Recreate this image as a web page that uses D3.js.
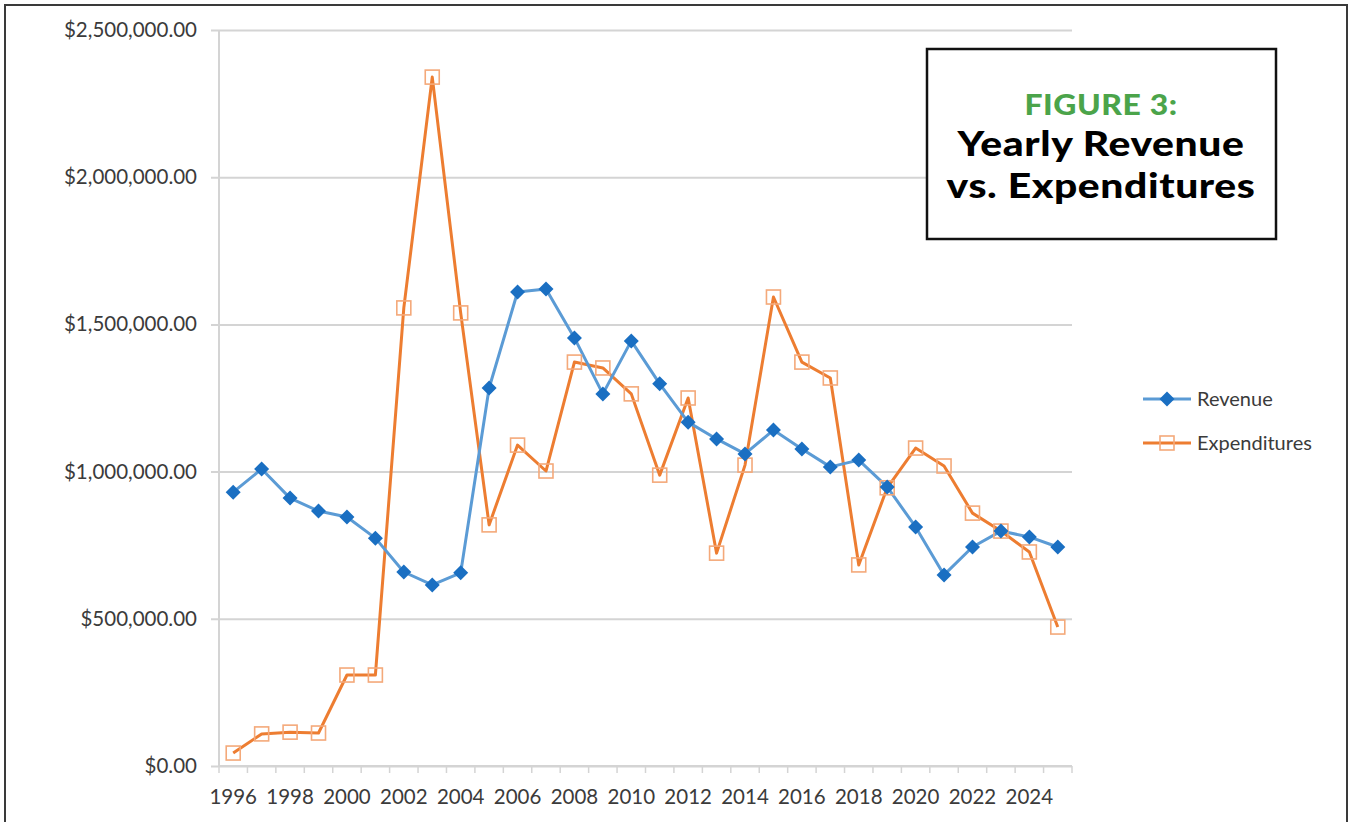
<!DOCTYPE html>
<html>
<head>
<meta charset="utf-8">
<script src="https://cdn.jsdelivr.net/npm/d3@7"></script>
<style>
  body { margin: 0; background: #fff; }
  svg { display: block; }
</style>
</head>
<body>
<div id="chart"></div>
<script>
var width = 1351,
    height = 822;

// data
var years = d3.range(1996, 2026);
var revenue = [930000, 1009000, 910000, 866000, 846000, 774000, 659000, 615000, 656000, 1284000,
               1610000, 1620000, 1454000, 1264000, 1444000, 1298000, 1168000, 1111000, 1060000, 1141000,
               1077000, 1016000, 1039000, 948000, 812000, 649000, 744000, 798000, 778000, 744000];
var expenditures = [44000, 109000, 115000, 112000, 309000, 309000, 1556000, 2340000, 1539000, 819000,
                    1090000, 1002000, 1372000, 1352000, 1264000, 988000, 1250000, 723000, 1022000, 1593000,
                    1372000, 1318000, 683000, 945000, 1080000, 1019000, 859000, 798000, 727000, 472000];
var yTicks = [0, 500000, 1000000, 1500000, 2000000, 2500000];
var seriesNames = ['Revenue', 'Expenditures'];
var titleLines = ['Yearly Revenue', 'vs. Expenditures'];

var margin = {left: 219, right: 279, top: 30, bottom: 56};
var labelFont = "Lato, 'Open Sans', sans-serif";

var svg = d3.select("#chart").append("svg")
  .attr("width", width)
  .attr("height", height);

// outer frame
svg.append("rect")
  .attr("x", 5).attr("y", 5)
  .attr("width", width - 9).attr("height", height + 20)
  .attr("fill", "none")
  .attr("stroke", "#3a3a3a")
  .attr("stroke-width", 2);

var x = d3.scaleBand()
  .domain(years)
  .range([margin.left, width - margin.right]);

var y = d3.scaleLinear()
  .domain([0, 2500000])
  .range([height - margin.bottom, margin.top]);

var fmt = function(d) { return "$" + d3.format(",.2f")(d); };

// gridlines + y axis
var yAxis = svg.append("g")
  .attr("transform", "translate(" + margin.left + ",0)")
  .call(d3.axisLeft(y).tickValues(yTicks).tickFormat(fmt)
    .tickSize(-(width - margin.right - margin.left)).tickPadding(22));
yAxis.select(".domain").remove();
yAxis.selectAll(".tick line")
  .attr("x1", -8)
  .attr("stroke", "#d4d4d4")
  .attr("stroke-width", 2);
yAxis.selectAll(".tick text")
  .attr("font-family", labelFont)
  .attr("font-size", 20.5)
  .attr("fill", "#3b3b3b");

// vertical axis line
svg.append("line")
  .attr("x1", margin.left).attr("x2", margin.left)
  .attr("y1", margin.top).attr("y2", y(0))
  .attr("stroke", "#d4d4d4")
  .attr("stroke-width", 2);

// x axis (category style, ticks between categories)
var xg = svg.append("g")
  .attr("transform", "translate(0," + y(0) + ")");
xg.append("line")
  .attr("x1", margin.left).attr("x2", width - margin.right)
  .attr("stroke", "#d4d4d4").attr("stroke-width", 2);
xg.selectAll("line.tk")
  .data(years.concat([2026]))
  .enter().append("line")
  .attr("class", "tk")
  .attr("x1", function(d) { return d === 2026 ? width - margin.right : x(d); })
  .attr("x2", function(d) { return d === 2026 ? width - margin.right : x(d); })
  .attr("y1", 0).attr("y2", 7)
  .attr("stroke", "#d4d4d4").attr("stroke-width", 1.5);
xg.selectAll("text")
  .data(years.filter(function(d, i) { return i % 2 === 0; }))
  .enter().append("text")
  .attr("x", function(d) { return x(d) + x.bandwidth() / 2; })
  .attr("y", 38)
  .attr("text-anchor", "middle")
  .attr("font-family", labelFont)
  .attr("font-size", 20.5)
  .attr("fill", "#3b3b3b")
  .text(function(d) { return d; });

var cx = function(d, i) { return x(years[i]) + x.bandwidth() / 2; };
var line = d3.line()
  .x(cx)
  .y(function(d) { return y(d); });

// expenditures
svg.append("path")
  .datum(expenditures)
  .attr("d", line)
  .attr("fill", "none")
  .attr("stroke", "#ed7d31")
  .attr("stroke-width", 3)
  .attr("stroke-linejoin", "round");

// revenue
svg.append("path")
  .datum(revenue)
  .attr("d", line)
  .attr("fill", "none")
  .attr("stroke", "#5b9bd5")
  .attr("stroke-width", 3)
  .attr("stroke-linejoin", "round");

svg.selectAll("rect.exp")
  .data(expenditures)
  .enter().append("rect")
  .attr("class", "exp")
  .attr("x", function(d, i) { return cx(d, i) - 7; })
  .attr("y", function(d) { return y(d) - 7; })
  .attr("width", 14).attr("height", 14)
  .attr("fill", "none")
  .attr("stroke", "#f4a97a")
  .attr("stroke-width", 1.6);

// square diamond like excel's marker
var diamond = "M0,-7.5L7.5,0L0,7.5L-7.5,0Z";
svg.selectAll("path.rev")
  .data(revenue)
  .enter().append("path")
  .attr("class", "rev")
  .attr("d", diamond)
  .attr("transform", function(d, i) { return "translate(" + cx(d, i) + "," + y(d) + ")"; })
  .attr("fill", "#1a6fc2");

// legend
var legend = svg.append("g")
  .attr("transform", "translate(1143,399)");
seriesNames.forEach(function(name, i) {
  var g = legend.append("g").attr("transform", "translate(0," + i * 44 + ")");
  g.append("line")
    .attr("x1", 0).attr("x2", 48)
    .attr("stroke", i === 0 ? "#5b9bd5" : "#ed7d31")
    .attr("stroke-width", 3);
  if (i === 0) {
    g.append("path")
      .attr("d", diamond)
      .attr("transform", "translate(24,0)")
      .attr("fill", "#1a6fc2");
  } else {
    g.append("rect")
      .attr("x", 17).attr("y", -7)
      .attr("width", 14).attr("height", 14)
      .attr("fill", "none")
      .attr("stroke", "#f4a97a")
      .attr("stroke-width", 1.6);
  }
  g.append("text")
    .attr("x", 54).attr("y", 7)
    .attr("font-family", labelFont)
    .attr("font-size", 20)
    .attr("fill", "#3b3b3b")
    .text(name);
});

// title box (the source font is wider than Lato, so stretch it a bit)
var tb = svg.append("g");
tb.append("rect")
  .attr("x", 927).attr("y", 49)
  .attr("width", 349).attr("height", 190)
  .attr("fill", "#fff")
  .attr("stroke", "#111")
  .attr("stroke-width", 2.5);
tb.append("text")
  .attr("transform", "translate(1101,115) scale(1.14,1)")
  .attr("text-anchor", "middle")
  .attr("font-family", "Lato, sans-serif")
  .attr("font-weight", 900)
  .attr("font-size", 28)
  .attr("letter-spacing", 0.5)
  .attr("fill", "#4ba44a")
  .text("FIGURE 3:");
titleLines.forEach(function(t, i) {
  tb.append("text")
    .attr("transform", "translate(1101," + (156 + i * 42) + ") scale(1.2,1)")
    .attr("text-anchor", "middle")
    .attr("font-family", "Lato, sans-serif")
    .attr("font-weight", 900)
    .attr("font-size", 34)
    .attr("letter-spacing", 0.5)
    .attr("fill", "#000")
    .text(t);
});
</script>
</body>
</html>
